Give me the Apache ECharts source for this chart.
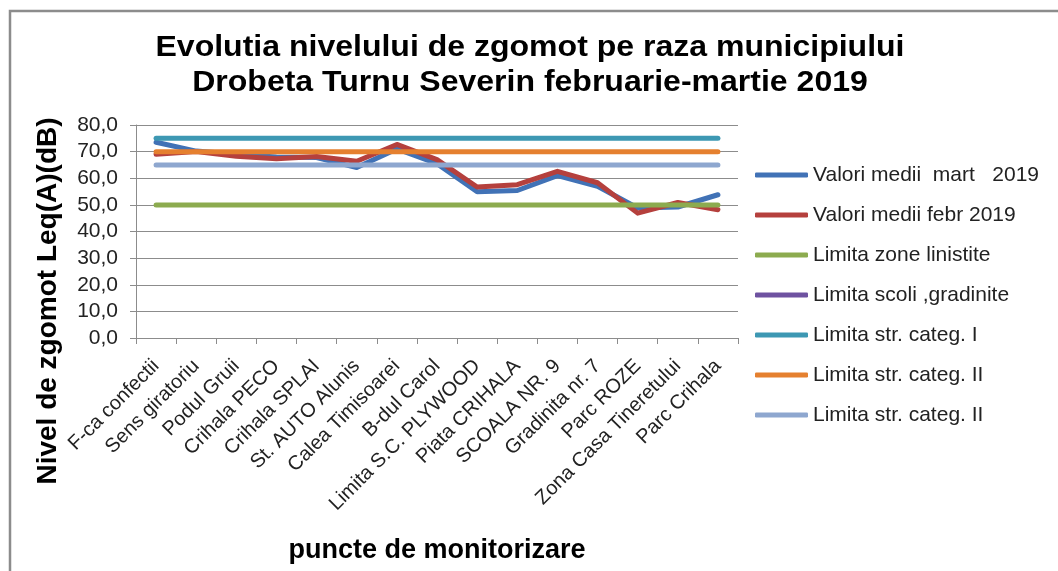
<!DOCTYPE html>
<html>
<head>
<meta charset="utf-8">
<script src="https://cdn.jsdelivr.net/npm/echarts@6/dist/echarts.min.js"></script>
<style>
  html, body { margin: 0; padding: 0; background: #fff; }
  #chart { width: 1058px; height: 571px; }
</style>
</head>
<body>
<div id="chart"></div>
<script>
// puncte de monitorizare
var categories = ['F-ca confectii', 'Sens giratoriu', 'Podul Gruii', 'Crihala PECO', 'Crihala SPLAI',
  'St. AUTO Alunis', 'Calea Timisoarei', 'B-dul Carol', 'Limita S.C. PLYWOOD', 'Piata CRIHALA',
  'SCOALA NR. 9', 'Gradinita nr. 7', 'Parc ROZE', 'Zona Casa Tineretului', 'Parc Crihala'];

var valoriMart = [73.5, 70.2, 69.0, 68.0, 67.8, 64.0, 71.0, 65.5, 54.9, 55.4, 61.0, 57.0, 48.8, 49.2, 53.8];
var valoriFebr = [69.0, 70.0, 68.3, 67.3, 68.2, 66.4, 72.7, 67.0, 56.7, 57.6, 62.6, 58.3, 46.9, 50.9, 48.2];

// limite (dB)
var limitaZoneLinistite = 50;
var limitaScoli = null;      // nu apare pe grafic
var limitaCategI = 75;
var limitaCategII = 70;
var limitaCategIIb = 65;

var yTicks = [0, 10, 20, 30, 40, 50, 60, 70, 80];

var titleLines = ['Evolutia nivelului de zgomot pe raza municipiului',
                  'Drobeta Turnu Severin februarie-martie 2019'];

function constant(v) {
    return categories.map(function () { return v; });
}

var seriesDefs = [
    { name: 'Valori medii  mart   2019', data: valoriMart, color: '#4172b6' },
    { name: 'Valori medii febr 2019', data: valoriFebr, color: '#b5403d' },
    { name: 'Limita zone linistite', data: constant(limitaZoneLinistite), color: '#8cab4f' },
    { name: 'Limita scoli ,gradinite', data: constant(limitaScoli), color: '#6e52a0' },
    { name: 'Limita str. categ. I', data: constant(limitaCategI), color: '#3d98b3' },
    { name: 'Limita str. categ. II', data: constant(limitaCategII), color: '#e5802f' },
    { name: 'Limita str. categ. II ', data: constant(limitaCategIIb), color: '#8ea7cf' }
];

var baseFont = "'Liberation Sans', Arial, sans-serif";
var titleFont = "bold 30px 'Liberation Sans', Arial, sans-serif";

// latimea titlului ca in original (~749px pe primul rand)
var ctx = document.createElement('canvas').getContext('2d');
ctx.font = titleFont;
var titleScale = 749 / ctx.measureText(titleLines[0]).width;

var chart = echarts.init(document.getElementById('chart'), null, { renderer: 'canvas' });

chart.setOption({
    backgroundColor: '#fff',
    animation: false,
    legend: {
        orient: 'vertical',
        left: 755,
        top: 164,
        padding: 0,
        itemWidth: 53,
        itemHeight: 5,
        itemGap: 18,
        icon: 'roundRect',
        textStyle: { fontFamily: baseFont, fontSize: 21, lineHeight: 22, color: '#222' },
        data: seriesDefs.map(function (s) {
            return { name: s.name, itemStyle: { color: s.color } };
        })
    },
    graphic: [
        {
            type: 'rect',
            shape: { x: 10, y: 11, width: 1100, height: 600 },
            style: { fill: 'none', stroke: '#8c8c8c', lineWidth: 2.5 },
            silent: true
        },
        {
            type: 'text',
            x: 530, y: 48, scaleX: titleScale,
            style: { text: titleLines[0], font: titleFont, fill: '#000', align: 'center', verticalAlign: 'middle' }
        },
        {
            type: 'text',
            x: 530, y: 83, scaleX: titleScale,
            style: { text: titleLines[1], font: titleFont, fill: '#000', align: 'center', verticalAlign: 'middle' }
        },
        {
            type: 'text',
            x: 48,
            y: 301,
            rotation: Math.PI / 2,
            style: {
                text: 'Nivel de zgomot Leq(A)(dB)',
                font: "bold 28px 'Liberation Sans', Arial, sans-serif",
                fill: '#000',
                align: 'center',
                verticalAlign: 'middle'
            }
        }
    ],
    grid: { left: 136, right: 320, top: 125, bottom: 233 },
    xAxis: {
        type: 'category',
        data: categories,
        boundaryGap: true,
        name: 'puncte de monitorizare',
        nameLocation: 'middle',
        nameGap: 199,
        nameTextStyle: { fontFamily: baseFont, fontWeight: 'bold', fontSize: 27, color: '#000' },
        axisLine: { lineStyle: { color: '#8c8c8c', width: 1 } },
        axisTick: { show: true, length: 6, lineStyle: { color: '#8c8c8c' } },
        axisLabel: {
            rotate: 45,
            margin: 25,
            interval: 0,
            fontFamily: baseFont,
            fontSize: 20,
            color: '#222'
        }
    },
    yAxis: {
        type: 'value',
        min: 0,
        max: 80,
        interval: 10,
        axisLine: { show: true, lineStyle: { color: '#8c8c8c', width: 1 } },
        axisTick: { show: true, length: 6, lineStyle: { color: '#8c8c8c' } },
        splitLine: { lineStyle: { color: '#8c8c8c', width: 1 } },
        axisLabel: {
            margin: 18,
            fontFamily: baseFont,
            fontSize: 21,
            color: '#222',
            formatter: function (v) {
                return yTicks.indexOf(v) >= 0 ? v.toFixed(1).replace('.', ',') : '';
            }
        }
    },
    series: seriesDefs.map(function (s) {
        return {
            name: s.name,
            type: 'line',
            data: s.data,
            symbol: 'none',
            smooth: false,
            connectNulls: false,
            lineStyle: { color: s.color, width: 5, cap: 'round', join: 'round' },
            itemStyle: { color: s.color }
        };
    })
});
</script>
</body>
</html>
